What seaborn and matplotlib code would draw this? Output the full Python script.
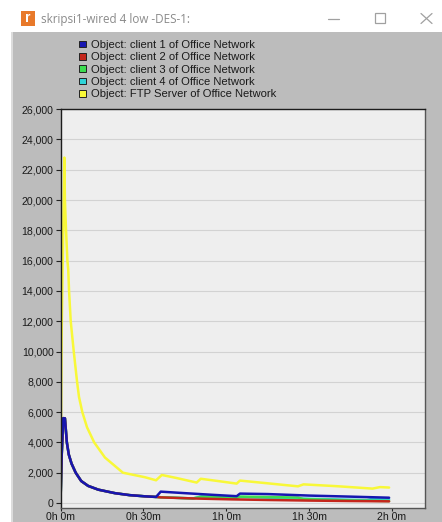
import matplotlib
matplotlib.use('Agg')
import matplotlib.pyplot as plt
from matplotlib.lines import Line2D
from matplotlib.patches import Patch, Rectangle
import pandas as pd
import seaborn as sns

W, H = 442, 522

series_names = ['Object: client 1 of Office Network', 'Object: client 2 of Office Network',
                'Object: client 3 of Office Network', 'Object: client 4 of Office Network',
                'Object: FTP Server of Office Network']
series_colors = ['#1616b0', '#c4261c', '#3cdc50', '#30d4d8', '#f8f838']

# time in minutes
early_t = [0, 0.4, 1.0, 1.6, 2.3, 3, 4, 5.5, 7.5, 10, 13.7, 19.7, 25, 30.6, 34.6]
early_v = [0, 3000, 5600, 5590, 4000, 3200, 2600, 2000, 1450, 1130, 880, 650, 520, 440, 400]

client1_t = early_t + [36.3, 45, 55, 63.8, 65, 75, 90, 105, 119]
client1_v = early_v + [750, 650, 540, 450, 620, 590, 490, 420, 350]

client2_t = early_t + [36.3, 50, 62, 75, 90, 105, 119]
client2_v = early_v + [370, 290, 240, 200, 160, 130, 110]

client3_t = early_t + [36.3, 48, 51, 63.8, 65, 75, 86, 88, 105, 119]
client3_v = early_v + [380, 300, 420, 340, 420, 395, 360, 260, 170, 130]

client4_t = early_t + [36.3, 48, 51, 63.8, 65, 85, 111, 113, 119]
client4_v = early_v + [380, 300, 430, 340, 400, 300, 190, 280, 250]

server_t = [0, 0.4, 1.4, 1.6, 2.0, 2.5, 2.8, 3.1, 3.7, 4.8, 6, 6.7, 7.9, 9.6, 12.2, 16.1, 22.6, 30.6, 34.6,
            36.7, 42, 49.3, 50.8, 57, 63.8, 65, 75, 86, 88, 100, 113, 115.7, 119]
server_v = [0, 11000, 22800, 20000, 18000, 16000, 15400, 14000, 12000, 10000, 8000, 7000, 6000, 5000, 4000,
            3000, 2000, 1700, 1500, 1850, 1650, 1350, 1600, 1450, 1280, 1480, 1300, 1100, 1230, 1110, 950, 1050, 1020]

y_ticks = list(range(0, 26001, 2000))
x_ticks = [0, 30, 60, 90, 120]
x_labels = ['0h 0m', '0h 30m', '1h 0m', '1h 30m', '2h 0m']
window_title = 'skripsi1-wired 4 low -DES-1:'

frames = []
for name, t, v in zip(series_names, [client1_t, client2_t, client3_t, client4_t, server_t],
                      [client1_v, client2_v, client3_v, client4_v, server_v]):
    frames.append(pd.DataFrame({'time': t, 'value': v, 'series': name}))
df = pd.concat(frames, ignore_index=True)

sns.set_style('white')
plt.rcParams['font.family'] = ['Liberation Sans', 'DejaVu Sans']

fig = plt.figure(figsize=(W / 100, H / 100), dpi=100, facecolor='white')

# window panel behind the chart
fig.add_artist(Rectangle((13 / W, 0), 1 - 13 / W, 1 - 32 / H, transform=fig.transFigure,
                         facecolor='#bcbcbc', edgecolor='none', zorder=-5))
fig.add_artist(Rectangle((11 / W, 0), 2 / W, 1 - 32 / H, transform=fig.transFigure,
                         facecolor='#dcdcdc', edgecolor='none', zorder=-5))

ax = fig.add_axes([60.5 / W, 1 - 507.5 / H, (425 - 60.5) / W, (507.5 - 108.5) / H], facecolor='#eeeeee')

# client 1 has to end up on top
for name, color in zip(reversed(series_names), reversed(series_colors)):
    sns.lineplot(data=df[df['series'] == name], x='time', y='value', color=color, linewidth=1.8,
                 estimator=None, sort=False, ax=ax, legend=False)

ax.set_xlim(0, 132)
ax.set_ylim(-297, 26040)
ax.set_xlabel('')
ax.set_ylabel('')
ax.set_yticks(y_ticks)
ax.set_yticklabels([format(v, ',') for v in y_ticks])
ax.set_xticks(x_ticks)
ax.set_xticklabels(x_labels)
ax.grid(axis='y', color='#d2d2d2', linewidth=0.8)
ax.set_axisbelow(True)
ax.tick_params(axis='both', direction='out', length=3.5, width=0.8, color='#222222',
               labelsize=7.6, labelcolor='#1a1a1a', pad=1.5, left=True, bottom=True)
ax.tick_params(axis='x', length=2.5, pad=0.5)
for side, spine in ax.spines.items():
    spine.set_visible(True)
    spine.set_linewidth(1.0)
    spine.set_color('#1c1c1c' if side in ('left', 'top') else '#555555')

handles = [Patch(facecolor=c, edgecolor='#222222', linewidth=0.7) for c in series_colors]
fig.legend(handles, series_names, loc='upper left', bbox_to_anchor=(79 / W, 1 - 40 / H),
           bbox_transform=fig.transFigure, frameon=False, fontsize=8.1, labelcolor='#1a1a1a',
           handlelength=0.62, handleheight=0.53, handletextpad=0.44, labelspacing=0.21,
           borderpad=0, borderaxespad=0)

# title bar
fig.add_artist(Rectangle((21 / W, 1 - 26 / H), 14 / W, 15 / H, transform=fig.transFigure,
                         facecolor='#e8792a', edgecolor='none'))
fig.text(28 / W, 1 - 18.5 / H, 'r', color='white', fontsize=10, fontweight='bold', ha='center', va='center')
fig.text(41 / W, 1 - 19 / H, window_title, color='#8a8a8a', fontsize=8.4, ha='left', va='center',
         family=['Open Sans', 'DejaVu Sans'])
btn = '#a0a0a0'
fig.add_artist(Line2D([328 / W, 339 / W], [1 - 18.5 / H] * 2, color=btn, linewidth=0.9))
fig.add_artist(Rectangle((374.5 / W, 1 - 23 / H), 10 / W, 9.5 / H, transform=fig.transFigure,
                         facecolor='none', edgecolor=btn, linewidth=0.9))
fig.add_artist(Line2D([421 / W, 432 / W], [1 - 13.5 / H, 1 - 23.5 / H], color=btn, linewidth=0.9))
fig.add_artist(Line2D([421 / W, 432 / W], [1 - 23.5 / H, 1 - 13.5 / H], color=btn, linewidth=0.9))

plt.savefig('out.png', dpi=100)
